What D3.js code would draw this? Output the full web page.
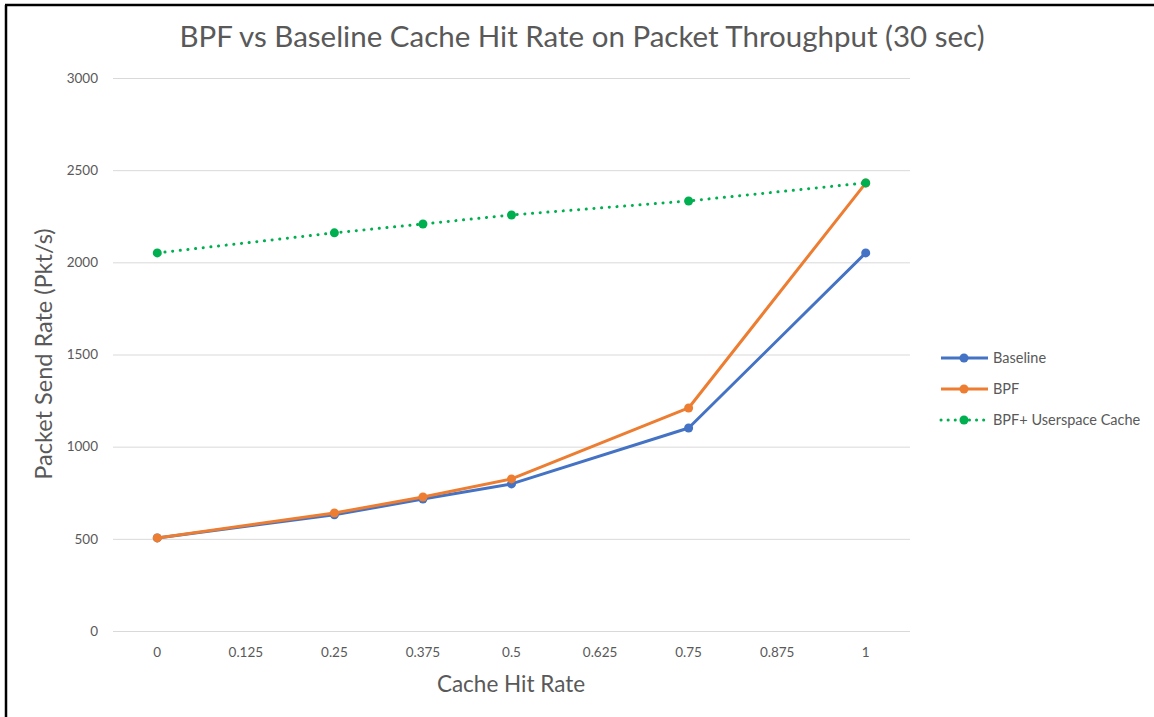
<!DOCTYPE html>
<html><head><meta charset="utf-8">
<script src="https://cdn.jsdelivr.net/npm/d3@7"></script>
<style>
html,body{margin:0;padding:0;background:#fff;}
svg{display:block;font-family:Lato,"Open Sans",sans-serif;}
</style></head>
<body>
<svg id="chart" width="1154" height="717"></svg>
<script>
const categories = ["0","0.125","0.25","0.375","0.5","0.625","0.75","0.875","1"];
const xValues = ["0","0.25","0.375","0.5","0.75","1"];
const baseline = [505, 630, 716, 798, 1101, 2051];
const bpf = [505, 640, 727, 825, 1210, 2430];
const userCache = [2051, 2160, 2208, 2257, 2333, 2431];
const yTicks = [0, 500, 1000, 1500, 2000, 2500, 3000];
const seriesNames = ["Baseline", "BPF", "BPF+ Userspace Cache"];

(function(){
const series = [
  {name: seriesNames[0], values: baseline, color: "#4472C4", dash: null},
  {name: seriesNames[1], values: bpf, color: "#ED7D31", dash: null},
  {name: seriesNames[2], values: userCache, color: "#00B050", dash: "0.1 7.6"}
];

const svg = d3.select("#chart");
svg.append("line").attr("x1",5).attr("x2",1154).attr("y1",5).attr("y2",5).attr("stroke","#000").attr("stroke-width",2.5);
svg.append("line").attr("x1",6).attr("x2",6).attr("y1",5).attr("y2",717).attr("stroke","#000").attr("stroke-width",2.5);

const mLeft = 113, mRight = 910, mTop = 78, mBottom = 631;
const x = d3.scaleBand().domain(categories).range([mLeft, mRight]);
const xc = v => x(v) + x.bandwidth()/2;
const y = d3.scaleLinear().domain([0, 3000]).range([mBottom, mTop]);

const yAxis = d3.axisLeft(y).tickValues(yTicks).tickFormat(d3.format("d")).tickSize(-(mRight-mLeft)).tickPadding(15);
const gy = svg.append("g").attr("transform", `translate(${mLeft},0)`).call(yAxis);
gy.select(".domain").remove();
gy.selectAll(".tick line").attr("stroke", "#d9d9d9").attr("stroke-width", 1);
gy.selectAll(".tick text").attr("fill", "#595959").attr("font-size", "13.5px").attr("font-family","Lato,sans-serif");

const xAxis = d3.axisBottom(x).tickSize(0).tickPadding(16);
const gx = svg.append("g").attr("transform", `translate(0,${mBottom})`).call(xAxis);
gx.select(".domain").remove();
gx.selectAll(".tick text").attr("fill", "#595959").attr("font-size", "13.5px").attr("font-family","Lato,sans-serif");

svg.append("text").attr("x", 582).attr("y", 47).attr("text-anchor","middle")
  .attr("fill","#595959").attr("font-size","29.5px").text("BPF vs Baseline Cache Hit Rate on Packet Throughput (30 sec)");
svg.append("text").attr("x", 511).attr("y", 692).attr("text-anchor","middle")
  .attr("fill","#595959").attr("font-size","22.5px").text("Cache Hit Rate");
svg.append("text").attr("transform","translate(52,354) rotate(-90)").attr("text-anchor","middle")
  .attr("fill","#595959").attr("font-size","23.5px").text("Packet Send Rate (Pkt/s)");

const line = d3.line().x((d,i) => xc(xValues[i])).y(d => y(d));
series.forEach(s => {
  svg.append("path").datum(s.values).attr("d", line).attr("fill","none")
    .attr("stroke", s.color).attr("stroke-width", 3)
    .attr("stroke-linecap", s.dash ? "round" : "butt")
    .attr("stroke-linejoin","round")
    .attr("stroke-dasharray", s.dash);
  svg.append("g").selectAll("circle").data(s.values).join("circle")
    .attr("cx", (d,i) => xc(xValues[i])).attr("cy", d => y(d)).attr("r", 4.5)
    .attr("fill", s.color);
});

const lg = svg.append("g");
series.forEach((s, i) => {
  const ly = 358 + i * 31;
  lg.append("line").attr("x1", 941).attr("x2", 988).attr("y1", ly).attr("y2", ly)
    .attr("stroke", s.color).attr("stroke-width", 3)
    .attr("stroke-linecap", s.dash ? "round" : "butt")
    .attr("stroke-dasharray", s.dash ? "0.1 7" : null);
  lg.append("circle").attr("cx", 964).attr("cy", ly).attr("r", 4.5).attr("fill", s.color);
  lg.append("text").attr("x", 993).attr("y", ly + 5).attr("fill","#595959").attr("font-size","14.5px").text(s.name);
});
})();
</script>
</body></html>
